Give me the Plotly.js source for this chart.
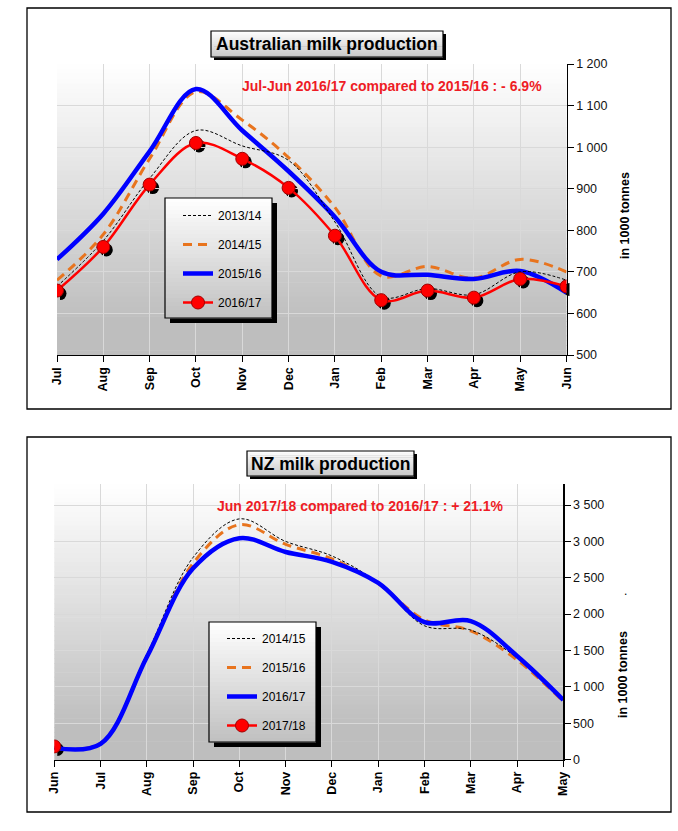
<!DOCTYPE html>
<html>
<head>
<meta charset="utf-8">
<script src="https://cdn.plot.ly/plotly-3.0.1.min.js"></script>
<style>html,body{margin:0;padding:0;background:#fff;}#chart{width:678px;height:831px;}</style>
</head>
<body>
<div id="chart"></div>
<script>
// ---------- DATA ----------
const auMonths = ['Jul','Aug','Sep','Oct','Nov','Dec','Jan','Feb','Mar','Apr','May','Jun'];
const au1314 = [665, 775, 925, 1040, 1003, 968, 820, 640, 660, 645, 700, 680];
const au1415 = [680, 790, 972, 1133, 1065, 975, 855, 690, 713, 685, 730, 700];
const au1516 = [730, 840, 990, 1140, 1040, 942, 832, 700, 693, 683, 702, 650];
const au1617 = [655, 760, 910, 1010, 972, 902, 787, 632, 655, 638, 683, 665];
const auNames = ['2013/14','2014/15','2015/16','2016/17'];

const nzMonths = ['Jun','Jul','Aug','Sep','Oct','Nov','Dec','Jan','Feb','Mar','Apr','May'];
const nz1415 = [150, 220, 1450, 2780, 3310, 3000, 2800, 2430, 1840, 1780, 1400, 830];
const nz1516 = [155, 225, 1420, 2700, 3230, 2960, 2760, 2420, 1920, 1770, 1370, 800];
const nz1617 = [160, 215, 1410, 2630, 3045, 2855, 2720, 2430, 1890, 1905, 1425, 820];
const nz1718 = [180];
const nzNames = ['2014/15','2015/16','2016/17','2017/18'];

const auTitle = 'Australian milk production';
const nzTitle = 'NZ milk production';
const auNote = 'Jul-Jun 2016/17 compared to 2015/16 : - 6.9%';
const nzNote = 'Jun 2017/18 compared to 2016/17 : + 21.1%';
const yUnit = 'in 1000 tonnes';

// ---------- LAYOUT HELPERS ----------
const W = 678, H = 831;
const fx = x => x / W;
const fy = y => 1 - y / H;
const FONT = 'Liberation Sans, Arial, sans-serif';
const RED = '#ff0000', BLUE = '#0000ff', ORANGE = '#e8741e', BLACK = '#000000';

const shapes = [];
function rect(x0, y0, x1, y1, fill, lineColor, lw, layer) {
  shapes.push({type:'rect', xref:'paper', yref:'paper', x0:fx(x0), x1:fx(x1), y0:fy(y1), y1:fy(y0),
    fillcolor: fill || 'rgba(0,0,0,0)', line:{color: lineColor || 'rgba(0,0,0,0)', width: lw || 0}, layer: layer || 'below'});
}
function grad(x0, y0, x1, y1, c0, c1, n, stop, layer) {
  const h = (y1 - y0) / n;
  for (let i = 0; i < n; i++) {
    const t = Math.min(1, ((i + 0.5) / n) / stop);
    const v = Math.round(c0 + (c1 - c0) * t);
    rect(x0, y0 + i * h, x1, y0 + (i + 1) * h + 0.6, `rgb(${v},${v},${v})`, null, 0, layer);
  }
}
function boxWithShadow(x0, y0, x1, y1, off, c0, c1, n) {
  rect(x0 + off, y0 + off, x1 + off, y1 + off, '#000', null, 0, 'above');
  grad(x0, y0, x1, y1, c0, c1, n, 1, 'above');
  rect(x0, y0, x1, y1, null, '#000', 1.2, 'above');
}

// plot areas (pixels)
const P1 = {x0:57, x1:566.5, y0:64, y1:355};
const P2 = {x0:54.3, x1:563.3, y0:484, y1:759.5};

// outer frames
rect(27, 8, 671, 409, null, '#000', 1.3, 'below');
rect(27, 437, 671, 812, null, '#000', 1.3, 'below');
// plot backgrounds (gradient)
grad(P1.x0, P1.y0, P1.x1, P1.y1, 255, 190, 60, 0.88, 'below');
grad(P2.x0, P2.y0, P2.x1, P2.y1, 255, 190, 60, 0.88, 'below');
// title boxes
boxWithShadow(211, 31, 443, 57, 3, 255, 200, 12);
boxWithShadow(247, 451, 414, 476, 3, 255, 200, 12);
// legend boxes
boxWithShadow(165, 198, 272, 318, 5, 255, 192, 30);
boxWithShadow(209, 622, 316, 742, 5, 255, 192, 30);

// ---------- TRACES ----------
const grid = '#d9d9d9';
function lineTrace(x, y, name, xa, ya, leg, style, rank) {
  return Object.assign({type:'scatter', mode:'lines', x:x, y:y, name:name, xaxis:xa, yaxis:ya,
    legend:leg, legendgroup:leg + name, legendrank:rank, hoverinfo:'skip'}, style);
}
const sBlack = {line:{color:BLACK, width:1, dash:'3px,2px', shape:'spline', smoothing:1}};
const sOrange = {line:{color:ORANGE, width:3, dash:'9px,6px', shape:'spline', smoothing:1}};
const sBlue = {line:{color:BLUE, width:4.5, shape:'spline', smoothing:1}};
const sRed = {mode:'lines+markers', line:{color:RED, width:2.5, shape:'spline', smoothing:1},
  marker:{symbol:'circle', size:13, color:RED, line:{color:'#a00000', width:1}}};
function shadowTrace(x, y, xa, ya) {
  return {type:'scatter', mode:'markers', x:x, y:y, xaxis:xa, yaxis:ya, showlegend:false, hoverinfo:'skip',
    marker:{symbol:'circle', size:13, color:'#000'}};
}

const traces = [
  // Australia: shadow on x/y, main on x2/y2
  shadowTrace(auMonths, au1617, 'x', 'y'),
  lineTrace(auMonths, au1415, auNames[1], 'x2', 'y2', 'legend', sOrange, 2),
  lineTrace(auMonths, au1516, auNames[2], 'x2', 'y2', 'legend', sBlue, 3),
  lineTrace(auMonths, au1314, auNames[0], 'x2', 'y2', 'legend', sBlack, 1),
  lineTrace(auMonths, au1617, auNames[3], 'x2', 'y2', 'legend', sRed, 4),
  // NZ: shadow on x3/y3, main on x4/y4
  shadowTrace(nzMonths.slice(0, nz1718.length), nz1718, 'x3', 'y3'),
  lineTrace(nzMonths, nz1516, nzNames[1], 'x4', 'y4', 'legend2', sOrange, 2),
  lineTrace(nzMonths, nz1415, nzNames[0], 'x4', 'y4', 'legend2', sBlack, 1),
  lineTrace(nzMonths, nz1617, nzNames[2], 'x4', 'y4', 'legend2', sBlue, 3),
  lineTrace(nzMonths.slice(0, nz1718.length), nz1718, nzNames[3], 'x4', 'y4', 'legend2', sRed, 4)
];

// ---------- AXES ----------
function xMain(P, anchor) {
  return {domain:[fx(P.x0), fx(P.x1)], anchor:anchor, type:'category', range:[0, 11],
    showline:true, linecolor:'#000', linewidth:1.2, ticks:'outside', ticklen:6, tickcolor:'#000',
    showgrid:true, gridcolor:grid, gridwidth:1, zeroline:false, tickangle:-90,
    tickfont:{family:FONT, size:12.5, color:'#000', weight:'bold'}, fixedrange:true};
}
function yMain(P, anchor, range, dtick) {
  return {domain:[fy(P.y1), fy(P.y0)], anchor:anchor, side:'right', range:range, dtick:dtick, tick0:0,
    showline:true, linecolor:'#000', linewidth:1.2, ticks:'outside', ticklen:6, tickcolor:'#000',
    showgrid:true, gridcolor:grid, gridwidth:1, zeroline:false, tickformat:',d',
    tickfont:{family:FONT, size:12.5, color:'#111'}, fixedrange:true};
}
function xShadow(P, anchor) {
  return {domain:[fx(P.x0 + 3), fx(P.x1 + 3)], anchor:anchor, type:'category', range:[0, 11], visible:false, fixedrange:true};
}
function yShadow(P, anchor, range) {
  return {domain:[fy(P.y1 + 3), fy(P.y0 + 3)], anchor:anchor, range:range, visible:false, fixedrange:true};
}

const legendStyle = {bgcolor:'rgba(0,0,0,0)', borderwidth:0, xanchor:'left', yanchor:'top',
  font:{family:FONT, size:12, color:'#000'}, tracegroupgap:10, traceorder:'grouped'};

const layout = {
  width:W, height:H, margin:{l:0, r:0, t:0, b:0},
  paper_bgcolor:'#fff', plot_bgcolor:'rgba(0,0,0,0)',
  separators:'. ',
  font:{family:FONT, size:12, color:'#000'},
  xaxis: xShadow(P1, 'y'),
  yaxis: yShadow(P1, 'x', [500, 1200]),
  xaxis2: xMain(P1, 'y2'),
  yaxis2: yMain(P1, 'x2', [500, 1200], 100),
  xaxis3: xShadow(P2, 'y3'),
  yaxis3: yShadow(P2, 'x3', [0, 3790]),
  xaxis4: xMain(P2, 'y4'),
  yaxis4: yMain(P2, 'x4', [0, 3790], 500),
  legend: Object.assign({x:fx(178), y:fy(201)}, legendStyle),
  legend2: Object.assign({x:fx(222), y:fy(624)}, legendStyle),
  shapes: shapes,
  annotations: [
    {text:auTitle, xref:'paper', yref:'paper', x:fx(327), y:fy(44), showarrow:false, xanchor:'center', yanchor:'middle',
      font:{family:FONT, size:17.5, color:'#000', weight:'bold'}},
    {text:nzTitle, xref:'paper', yref:'paper', x:fx(330.5), y:fy(463.5), showarrow:false, xanchor:'center', yanchor:'middle',
      font:{family:FONT, size:17.5, color:'#000', weight:'bold'}},
    {text:auNote, xref:'paper', yref:'paper', x:fx(392), y:fy(86), showarrow:false, xanchor:'center', yanchor:'middle',
      font:{family:FONT, size:14, color:'#ee1c25', weight:'bold'}},
    {text:nzNote, xref:'paper', yref:'paper', x:fx(360), y:fy(506), showarrow:false, xanchor:'center', yanchor:'middle',
      font:{family:FONT, size:14, color:'#ee1c25', weight:'bold'}},
    {text:yUnit, xref:'paper', yref:'paper', x:fx(625), y:fy(216), showarrow:false, textangle:-90, xanchor:'center', yanchor:'middle',
      font:{family:FONT, size:12.5, color:'#000', weight:'bold'}},
    {text:yUnit, xref:'paper', yref:'paper', x:fx(623), y:fy(675), showarrow:false, textangle:-90, xanchor:'center', yanchor:'middle',
      font:{family:FONT, size:12.5, color:'#000', weight:'bold'}},
    {text:'.', xref:'paper', yref:'paper', x:fx(625), y:fy(591), showarrow:false, xanchor:'center', yanchor:'middle',
      font:{family:FONT, size:12, color:'#000'}}
  ]
};

Plotly.newPlot('chart', traces, layout, {displayModeBar:false, staticPlot:true});
</script>
</body>
</html>
